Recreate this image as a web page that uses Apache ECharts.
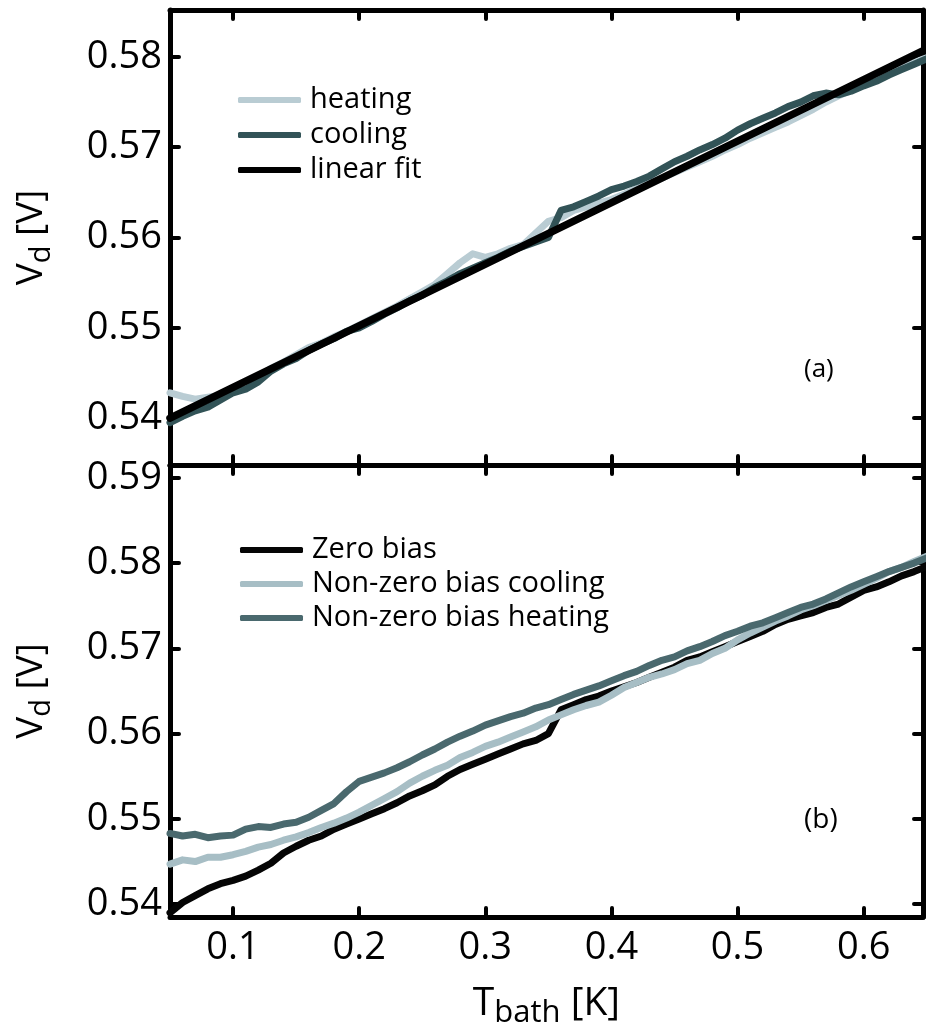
<!DOCTYPE html>
<html><head><meta charset="utf-8">
<script src="https://cdn.jsdelivr.net/npm/echarts@6/dist/echarts.min.js"></script>
<style>html,body{margin:0;padding:0;background:#fff}#c{width:926px;height:1030px}</style>
</head><body><div id="c"></div>
<script>
const tBath = [0.05,0.06,0.07,0.08,0.09,0.10,0.11,0.12,0.13,0.14,0.15,0.16,0.17,0.18,0.19,0.20,
  0.21,0.22,0.23,0.24,0.25,0.26,0.27,0.28,0.29,0.30,0.31,0.32,0.33,0.34,0.35,0.36,0.37,0.38,0.39,0.40,
  0.41,0.42,0.43,0.44,0.45,0.46,0.47,0.48,0.49,0.50,0.51,0.52,0.53,0.54,0.55,0.56,0.57,0.58,0.59,0.60,
  0.61,0.62,0.63,0.64,0.65];
// panel (a)
const heatingA = [0.5428,0.5424,0.5421,0.5423,0.5425,0.5432,0.5440,0.5445,0.5455,0.5462,0.5470,0.5478,0.5483,0.5490,0.5496,0.5503,
  0.5510,0.5517,0.5524,0.5532,0.5540,0.5548,0.5560,0.5572,0.5582,0.5578,0.5582,0.5588,0.5592,0.5605,0.5618,0.5622,0.5630,0.5634,0.5638,0.5642,
  0.5648,0.5654,0.5660,0.5666,0.5672,0.5678,0.5684,0.5690,0.5697,0.5703,0.5710,0.5716,0.5722,0.5728,0.5735,0.5742,0.5750,0.5757,0.5763,0.5770,
  0.5776,0.5782,0.5788,0.5794,0.5799];
const coolingA = [0.5395,0.5402,0.5408,0.5412,0.5420,0.5428,0.5432,0.5440,0.5452,0.5460,0.5466,0.5475,0.5482,0.5488,0.5496,0.5500,
  0.5507,0.5515,0.5522,0.5530,0.5536,0.5545,0.5552,0.5560,0.5566,0.5572,0.5578,0.5585,0.5590,0.5595,0.5600,0.5630,0.5634,0.5640,0.5646,0.5653,
  0.5657,0.5662,0.5668,0.5676,0.5684,0.5690,0.5697,0.5703,0.5710,0.5719,0.5726,0.5732,0.5738,0.5745,0.5750,0.5757,0.5760,0.5758,0.5762,0.5768,
  0.5773,0.5780,0.5786,0.5792,0.5798];
const fitT = [0.05, 0.65];
const fitV = [0.5400, 0.5809];
// panel (b)
const zeroBias = [0.5390,0.5402,0.5410,0.5418,0.5424,0.5428,0.5433,0.5440,0.5448,0.5460,0.5468,0.5475,0.5480,0.5488,0.5494,0.5500,
  0.5506,0.5512,0.5519,0.5527,0.5533,0.5540,0.5550,0.5558,0.5564,0.5570,0.5576,0.5582,0.5588,0.5592,0.5600,0.5628,0.5634,0.5640,0.5644,0.5650,
  0.5655,0.5660,0.5666,0.5672,0.5678,0.5686,0.5690,0.5696,0.5702,0.5708,0.5714,0.5720,0.5728,0.5734,0.5738,0.5742,0.5748,0.5752,0.5760,0.5768,
  0.5772,0.5778,0.5785,0.5790,0.5796];
const nzCooling = [0.5447,0.5452,0.5450,0.5455,0.5455,0.5458,0.5462,0.5467,0.5470,0.5475,0.5479,0.5484,0.5490,0.5495,0.5501,0.5508,
  0.5516,0.5524,0.5532,0.5542,0.5550,0.5557,0.5563,0.5572,0.5578,0.5585,0.5590,0.5596,0.5602,0.5608,0.5616,0.5622,0.5628,0.5633,0.5637,0.5645,
  0.5654,0.5660,0.5666,0.5670,0.5675,0.5682,0.5686,0.5694,0.5700,0.5710,0.5718,0.5725,0.5732,0.5738,0.5745,0.5750,0.5756,0.5762,0.5768,0.5775,
  0.5782,0.5790,0.5795,0.5802,0.5808];
const nzHeating = [0.5483,0.5480,0.5482,0.5478,0.5480,0.5481,0.5488,0.5491,0.5490,0.5494,0.5496,0.5502,0.5510,0.5518,0.5532,0.5544,
  0.5549,0.5554,0.5560,0.5567,0.5575,0.5582,0.5590,0.5597,0.5603,0.5610,0.5615,0.5620,0.5624,0.5630,0.5634,0.5640,0.5646,0.5651,0.5656,0.5662,
  0.5668,0.5673,0.5680,0.5686,0.5690,0.5697,0.5702,0.5708,0.5715,0.5720,0.5726,0.5730,0.5736,0.5742,0.5748,0.5752,0.5758,0.5765,0.5772,0.5778,
  0.5784,0.5790,0.5795,0.5800,0.5806];
const xTicks = [0.1,0.2,0.3,0.4,0.5,0.6];
const yTicksA = [0.54,0.55,0.56,0.57,0.58];
const yTicksB = [0.54,0.55,0.56,0.57,0.58,0.59];

const FONT = '"Open Sans", "Noto Sans", sans-serif';
const pair = (xs, ys) => xs.map((x, i) => [x, ys[i]]);

function axisBase(ticks) {
  return {
    type: 'value',
    axisLine: { show: true, onZero: false, lineStyle: { color: '#000', width: 5 } },
    axisTick: { show: true, inside: true, length: 9, customValues: ticks,
      lineStyle: { color: '#000', width: 4, cap: 'round' } },
    axisLabel: { show: false },
    splitLine: { show: false }
  };
}
function xAx(grid, pos, withLabels) {
  const a = Object.assign(axisBase(xTicks), { gridIndex: grid, position: pos, min: 0.05, max: 0.647 });
  if (withLabels) {
    a.axisLabel = { show: true, customValues: xTicks, formatter: v => v.toFixed(1),
      fontSize: 38, fontFamily: FONT, color: '#000', margin: 12 };
    a.name = '{v|T}{s|bath}{v| [K]}';
    a.nameLocation = 'middle';
    a.nameGap = 62;
    a.nameTextStyle = { rich: {
      v: { fontSize: 39, fontFamily: FONT, color: '#000', lineHeight: 50, verticalAlign: 'middle' },
      s: { fontSize: 31, fontFamily: FONT, color: '#000', lineHeight: 26, verticalAlign: 'bottom' } } };
  }
  return a;
}
function yAx(grid, pos, ticks, min, max, withLabels) {
  const a = Object.assign(axisBase(ticks), { gridIndex: grid, position: pos, min: min, max: max });
  if (withLabels) {
    a.axisLabel = { show: true, customValues: ticks, formatter: v => v.toFixed(2),
      fontSize: 38, fontFamily: FONT, color: '#000', margin: 8 };
    a.name = '{v|V}{s|d}{v| [V]}';
    a.nameLocation = 'middle';
    a.nameRotate = 90;
    a.nameGap = 114;
    a.nameTextStyle = { rich: {
      v: { fontSize: 37, fontFamily: FONT, color: '#000', lineHeight: 50, verticalAlign: 'middle' },
      s: { fontSize: 29, fontFamily: FONT, color: '#000', lineHeight: 24, verticalAlign: 'bottom' } } };
  }
  return a;
}
function line(name, xi, data, color, width) {
  return { name: name, type: 'line', xAxisIndex: xi, yAxisIndex: xi, data: data,
    showSymbol: false, symbol: 'none', lineStyle: { color: color, width: width, join: 'round', cap: 'round' },
    itemStyle: { color: color }, animation: false, silent: true };
}

const C_HEAT_A = '#b9ccd3', C_COOL_A = '#325357', C_FIT = '#000000';
const C_ZERO = '#050505', C_NZC = '#a7bec5', C_NZH = '#4a696e';

const legendCommon = { orient: 'vertical', icon: 'roundRect', itemWidth: 63, itemHeight: 6,
  selectedMode: false, textStyle: { fontSize: 29, fontFamily: FONT, color: '#000', lineHeight: 30, padding: [0, 0, 0, 4] } };

const option = {
  animation: false,
  backgroundColor: '#fff',
  grid: [
    { left: 170, right: 3, top: 10, height: 455 },
    { left: 170, right: 3, top: 465, height: 453 }
  ],
  xAxis: [ xAx(0, 'bottom', false), xAx(0, 'top', false), xAx(1, 'bottom', true), xAx(1, 'top', false) ],
  yAxis: [
    yAx(0, 'left', yTicksA, 0.5348, 0.5852, true), yAx(0, 'right', yTicksA, 0.5348, 0.5852, false),
    yAx(1, 'left', yTicksB, 0.5385, 0.5915, true), yAx(1, 'right', yTicksB, 0.5385, 0.5915, false)
  ],
  legend: [
    Object.assign({}, legendCommon, { left: 233, top: 80, itemGap: 5, data: ['heating', 'cooling', 'linear fit'] }),
    Object.assign({}, legendCommon, { left: 235, top: 530, itemGap: 4, data: ['Zero bias', 'Non-zero bias cooling', 'Non-zero bias heating'] })
  ],
  graphic: [
    { type: 'text', left: 804, top: 357, style: { text: '(a)', fontSize: 26, fontFamily: FONT, fill: '#000' } },
    { type: 'text', left: 804, top: 806, style: { text: '(b)', fontSize: 28, fontFamily: FONT, fill: '#000' } }
  ],
  series: [
    line('heating', 0, pair(tBath, heatingA), C_HEAT_A, 7),
    line('cooling', 0, pair(tBath, coolingA), C_COOL_A, 7),
    line('linear fit', 0, pair(fitT, fitV), C_FIT, 7.5),
    line('Zero bias', 2, pair(tBath, zeroBias), C_ZERO, 7),
    line('Non-zero bias cooling', 2, pair(tBath, nzCooling), C_NZC, 7),
    line('Non-zero bias heating', 2, pair(tBath, nzHeating), C_NZH, 7)
  ]
};
const chart = echarts.init(document.getElementById('c'), null, { renderer: 'canvas' });
chart.setOption(option);
</script>
</body></html>
